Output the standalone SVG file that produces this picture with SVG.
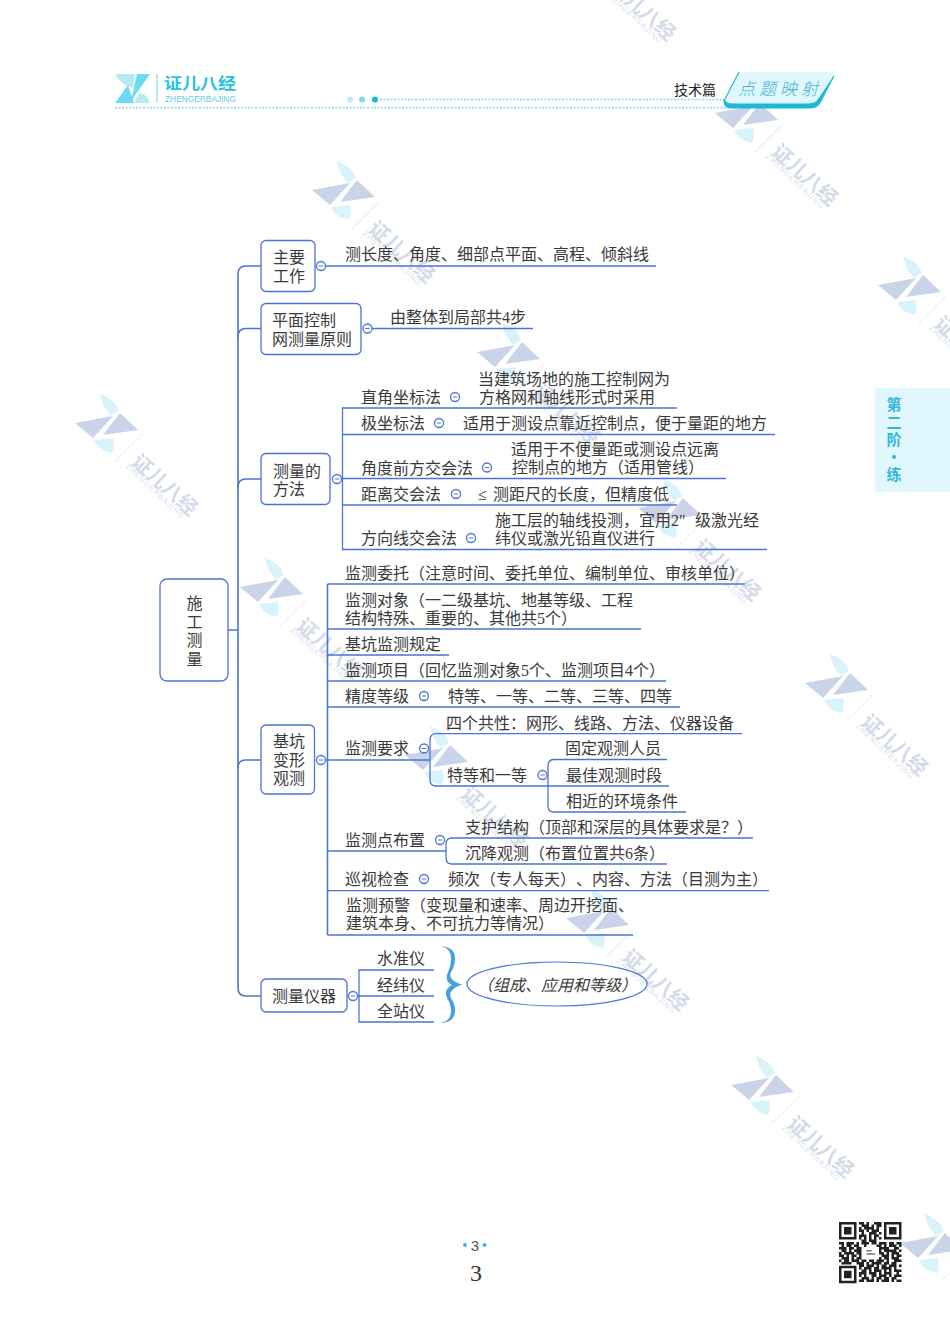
<svg xmlns="http://www.w3.org/2000/svg" width="950" height="1324" viewBox="0 0 950 1324" xml:lang="zh-CN">
<style>
text{font-family:"Liberation Serif","Noto Sans CJK SC",serif;font-size:16px;fill:#3a3a3a;dominant-baseline:central;text-spacing-trim:space-all;font-kerning:none}
.box{fill:#fff;stroke:#4a74d6;stroke-width:1.3}
.ln{fill:none;stroke:#4a74d6;stroke-width:1.3}
.tr{fill:none;stroke:#4a74d6;stroke-width:1.6}
.wt{fill:#c9d4e8}.wp{fill:#d9f3fb}
.wz{font-family:"Noto Sans CJK SC",sans-serif;font-size:20px;font-weight:700;fill:#d3daea}
.we{font-family:"Liberation Sans",sans-serif;font-size:7.5px;fill:#d9dfec}
.sd{font-family:"Noto Sans CJK SC",sans-serif;font-size:15px;font-weight:700;fill:#2fb8d8;writing-mode:vertical-rl;letter-spacing:2.5px;dominant-baseline:auto}
</style>
<defs>
<g id="wm">
<path class="wp" d="M30 9Q45 14 49 26L41 31Q32 22 30 9Z"/>
<path class="wt" d="M5 38L43 31L23 53Z"/>
<path class="wt" d="M50 28L68 45L33 50Z"/>
<path class="wp" d="M24 55L43 53Q45 62 42 68Q29 66 24 55Z"/>
<path d="M73 49L45 77" stroke="#dde3ee" stroke-width=".8" fill="none"/>
<text class="wz" transform="translate(66 72) rotate(42)" textLength="80" lengthAdjust="spacing">证儿八经</text>
<text class="we" transform="translate(57 80) rotate(43)" textLength="76">ZHENGERBAJING</text>
</g>
<g id="m"><circle r="4.500" fill="#fff" stroke="#4a74d6" stroke-width="1.3"/><path d="M-2.200 0H2.200" stroke="#4a74d6" stroke-width="1"/></g>
</defs>
<rect width="950" height="1324" fill="#fff"/>

<g id="watermarks">
<use href="#wm" x="70" y="385"/><use href="#wm" x="307" y="152"/><use href="#wm" x="235" y="549"/>
<use href="#wm" x="710" y="75"/><use href="#wm" x="873" y="247"/><use href="#wm" x="472" y="314"/>
<use href="#wm" x="800" y="645"/><use href="#wm" x="726" y="1047"/><use href="#wm" x="548" y="-90"/>
<use href="#wm" x="561" y="880"/><use href="#wm" x="633" y="470"/><use href="#wm" x="400" y="717"/>
<use href="#wm" x="895" y="1205"/>
</g>

<g id="header">
<path d="M115 74H135L133 88Q121 85 115 74Z" fill="#b5eaf5"/>
<path d="M137 74H150L131 101Z" fill="#6cdaf0"/>
<path d="M115 103L128 85L134 103Z" fill="#6cdaf0"/>
<path d="M135 103H150Q147 94 140 93Q136 96 135 103Z" fill="#b5eaf5"/>
<path d="M157 74V103" stroke="#6cdaf0" stroke-width="1"/>
<text x="164" y="82" style="font-family:'Noto Sans CJK SC',sans-serif;font-size:16px;font-weight:700;fill:#27c2de" textLength="72" lengthAdjust="spacingAndGlyphs">证儿八经</text>
<text x="165" y="98.500" style="font-family:'Liberation Sans',sans-serif;font-size:9px;fill:#63cbe3" textLength="71" lengthAdjust="spacingAndGlyphs">ZHENGERBAJING</text>
<circle cx="350" cy="99.500" r="3" fill="#bfeaf4"/><circle cx="362" cy="99.500" r="3" fill="#7fd7ea"/><circle cx="375" cy="99.500" r="3" fill="#16b7d8"/>
<path d="M380 99.500H728M115 107.700H730" stroke="#8adcec" stroke-width="1.500" stroke-dasharray="2 1.500" fill="none"/>
<text x="674" y="89" style="font-family:'Noto Sans CJK SC',sans-serif;font-size:14px;fill:#222" textLength="42">技术篇</text>
<path d="M739 72H829Q835 72 833 78L820 102Q817 107 811 107H731Q723 107 725 100Z" fill="#e0f8fd"/>
<path d="M724 99Q723 108 731 108H811Q817 108 820 103L834 76L818 100Q815 104 809 104H732Q726 104 724 99Z" fill="#1cb9d6" stroke="#1cb9d6"/>
<path d="M739 72L725 99" stroke="#1cb9d6" stroke-width="1.200" fill="none"/>
<text x="738" y="87" style="font-family:'Noto Sans CJK SC',sans-serif;font-size:17px;font-weight:300;font-style:italic;fill:#44b2d4" textLength="80">点题映射</text>
</g>

<g id="side-tab">
<rect x="875" y="388" width="75" height="104" fill="#dff7fd"/>
<text class="sd" x="894" y="397">第二阶·练</text>
</g>

<g id="connectors">
<path class="tr" d="M261 266H246Q238 266 238 274V988Q238 996 246 996H261"/>
<path class="tr" d="M261 328.500H246Q238 328.500 238 337M261 479H246Q238 479 238 487M261 760H246Q238 760 238 768M228 630H238"/>
<path class="ln" d="M325 266H656M371 328.500H533"/>
<path class="ln" d="M341 478.500H726M677 408H342.500V549.500H767M342.500 434.500H775M342.500 505H677"/>
<path class="tr" d="M327.500 584V935"/>
<path class="ln" d="M327.500 584H745M327.500 629H641M327.500 655H449M327.500 681H666M327.500 707H680M325 760H430M327.500 851H446M327.500 890.700H769M327.500 935H633"/>
<path class="ln" d="M742 733.700H436Q430 733.700 430 740V780Q430 786 436 786H548"/>
<path class="ln" d="M667 759.500H554Q548 759.500 548 766V806Q548 812 554 812H686M548 786H669"/>
<path class="ln" d="M753 838H452Q446 838 446 844V858Q446 864 452 864H667"/>
<path class="ln" d="M357 996H434M434 970H359V1022H434"/>
</g>

<g id="root"><rect class="box" x="160" y="579" width="68" height="102" rx="7"/><text x="186.500" y="603">施</text><text x="186.500" y="622">工</text><text x="186.500" y="640">测</text><text x="186.500" y="659">量</text></g>

<g id="n-main-work"><rect class="box" x="261" y="240.500" width="54" height="51" rx="5"/><text x="273" y="257">主要</text><text x="273" y="276">工作</text><use href="#m" x="321" y="266"/></g>
<g id="n-main-work-1"><text x="345" y="254">测长度、角度、细部点平面、高程、倾斜线</text></g>

<g id="n-control"><rect class="box" x="261" y="303.500" width="100" height="51" rx="5"/><text x="272" y="320">平面控制</text><text x="272" y="339">网测量原则</text><use href="#m" x="367.500" y="328.500"/></g>
<g id="n-control-1"><text x="390" y="317">由整体到局部共4步</text></g>

<g id="n-method"><rect class="box" x="261" y="453.500" width="69" height="51" rx="5"/><text x="273" y="471">测量的</text><text x="273" y="489">方法</text><use href="#m" x="337" y="479"/></g>
<g id="n-m1"><text x="361" y="397">直角坐标法</text><use href="#m" x="455" y="397"/><text x="478" y="379">当建筑场地的施工控制网为</text><text x="479" y="397">方格网和轴线形式时采用</text></g>
<g id="n-m2"><text x="361" y="423">极坐标法</text><use href="#m" x="439" y="423"/><text x="463" y="423">适用于测设点靠近控制点，便于量距的地方</text></g>
<g id="n-m3"><text x="361" y="468">角度前方交会法</text><use href="#m" x="487" y="467.500"/><text x="511" y="449">适用于不便量距或测设点远离</text><text x="512" y="467">控制点的地方（适用管线）</text></g>
<g id="n-m4"><text x="361" y="494">距离交会法</text><use href="#m" x="456" y="494"/><text x="478" y="494">≤<tspan x="493">测距尺的长度，但精度低</tspan></text></g>
<g id="n-m5"><text x="361" y="538">方向线交会法</text><use href="#m" x="471" y="538"/><text x="495" y="520">施工层的轴线投测，宜用2″ <tspan x="695">级激光经</tspan></text><text x="495" y="538">纬仪或激光铅直仪进行</text></g>

<g id="n-pit"><rect class="box" x="261" y="725" width="53.500" height="69" rx="5"/><text x="273" y="741">基坑</text><text x="273" y="760">变形</text><text x="273" y="778">观测</text><use href="#m" x="321" y="760"/></g>
<g id="n-p1"><text x="345" y="573">监测委托（注意时间、委托单位、编制单位、审核单位）</text></g>
<g id="n-p2"><text x="345" y="600">监测对象（一二级基坑、地基等级、工程</text><text x="345" y="618">结构特殊、重要的、其他共5个）</text></g>
<g id="n-p3"><text x="345" y="644">基坑监测规定</text></g>
<g id="n-p4"><text x="345" y="670">监测项目（回忆监测对象5个、监测项目4个）</text></g>
<g id="n-p5"><text x="345" y="696">精度等级</text><use href="#m" x="424" y="696"/><text x="448" y="696">特等、一等、二等、三等、四等</text></g>
<g id="n-p6"><text x="345" y="748">监测要求</text><use href="#m" x="424" y="748.500"/></g>
<g id="n-p6a"><text x="446" y="723">四个共性：网形、线路、方法、仪器设备</text></g>
<g id="n-p6b"><text x="447" y="775">特等和一等</text><use href="#m" x="542.500" y="775"/></g>
<g id="n-p6b1"><text x="565" y="748">固定观测人员</text></g>
<g id="n-p6b2"><text x="566" y="775">最佳观测时段</text></g>
<g id="n-p6b3"><text x="566" y="801">相近的环境条件</text></g>
<g id="n-p7"><text x="345" y="840">监测点布置</text><use href="#m" x="440" y="840"/></g>
<g id="n-p7a"><text x="465" y="827">支护结构（顶部和深层的具体要求是？）</text></g>
<g id="n-p7b"><text x="465" y="853">沉降观测（布置位置共6条）</text></g>
<g id="n-p8"><text x="345" y="879">巡视检查</text><use href="#m" x="424" y="879"/><text x="448" y="879">频次（专人每天）、内容、方法（目测为主）</text></g>
<g id="n-p9"><text x="346" y="905">监测预警（变现量和速率、周边开挖面、</text><text x="346" y="923">建筑本身、不可抗力等情况）</text></g>

<g id="n-inst"><rect class="box" x="261" y="979" width="86" height="33" rx="5"/><text x="272" y="996">测量仪器</text><use href="#m" x="353" y="996"/></g>
<g id="n-i1"><text x="377" y="958">水准仪</text></g>
<g id="n-i2"><text x="377" y="985">经纬仪</text></g>
<g id="n-i3"><text x="377" y="1011">全站仪</text></g>
<g id="n-brace"><path d="M440 946Q455 947 455 958Q455 966 451 972Q447 980 462 984.500Q447 990 451 998Q456 1006 455 1012Q454 1023 440 1023Q451 1021 451 1012Q451 1004 447 998Q443 990 452 985Q444 981 448 972Q451 966 451 958Q451 948 440 946Z" fill="#4a9fdc"/></g>
<g id="n-note"><ellipse cx="557" cy="984" rx="90" ry="22" fill="#fff" fill-opacity="0" stroke="#4a74d6" stroke-width="1.2"/><text x="557" y="985" font-style="italic" text-anchor="middle">（组成、应用和等级）</text></g>

<g id="footer">
<circle cx="465" cy="1245" r="2" fill="#22c0dc"/><circle cx="484.500" cy="1245" r="2" fill="#22c0dc"/>
<text x="475" y="1245" text-anchor="middle" style="font-family:'Liberation Sans',sans-serif;font-size:15px;fill:#555">3</text>
<text x="476" y="1273" text-anchor="middle" style="font-size:24px;fill:#333">3</text>
</g>

<g id="qr" transform="translate(839 1222) scale(2.5)">
<rect width="25" height="24.500" fill="#fff"/>
<path d="M.5 .5h6v6h-6zM18.500 .5h6v6h-6zM.5 18h6v6h-6z" fill="none" stroke="#222" stroke-width="1"/>
<path d="M2 2h3v3h-3zM20 2h3v3h-3zM2 19.500h3v3h-3z" fill="#222"/>
<path fill="none" stroke="#222" stroke-width="1" d="M8 .5h2M11 .5h1M14 .5h3M9 1.500h3M13 1.500h1M15 1.500h2M8 2.500h1M10 2.500h4M15 2.500h1M8 3.500h2M11 3.500h1M13 3.500h3M9 4.500h1M12 4.500h3M16 4.500h1M8 5.500h3M12 5.500h1M14 5.500h2M8 6.500h1M10 6.500h1M12 6.500h1M14 6.500h1M16 6.500h1M9 7.500h2M12 7.500h3M0 8.500h2M3 8.500h3M7 8.500h1M9 8.500h3M13 8.500h2M16 8.500h3M20 8.500h2M23 8.500h2M1 9.500h1M3 9.500h2M6 9.500h2M10 9.500h1M15 9.500h2M18 9.500h1M20 9.500h3M24 9.500h1M0 10.500h3M4 10.500h2M7 10.500h2M16 10.500h3M19 10.500h1M22 10.500h2M1 11.500h2M4 11.500h1M6 11.500h3M16 11.500h1M18 11.500h3M21 11.500h2M24 11.500h1M0 12.500h1M2 12.500h4M7 12.500h2M16 12.500h2M19 12.500h1M21 12.500h3M0 13.500h2M3 13.500h1M5 13.500h2M8 13.500h1M17 13.500h3M21 13.500h1M23 13.500h2M1 14.500h3M5 14.500h1M7 14.500h2M16 14.500h1M18 14.500h2M21 14.500h3M0 15.500h1M2 15.500h2M5 15.500h3M9 15.500h2M12 15.500h2M15 15.500h3M19 15.500h1M22 15.500h3M1 16.500h3M4 16.500h1M7 16.500h3M11 16.500h1M13 16.500h4M18 16.500h2M21 16.500h2M8 17.500h2M11 17.500h3M15 17.500h1M17 17.500h2M20 17.500h3M24 17.500h1M8 18.500h1M10 18.500h3M14 18.500h2M17 18.500h4M22 18.500h1M9 19.500h2M12 19.500h1M14 19.500h3M18 19.500h1M20 19.500h1M22 19.500h3M8 20.500h3M12 20.500h3M16 20.500h1M18 20.500h3M23 20.500h1M8 21.500h1M10 21.500h1M13 21.500h2M16 21.500h3M20 21.500h1M22 21.500h3M9 22.500h3M13 22.500h1M15 22.500h2M18 22.500h2M21 22.500h2M8 23.500h2M11 23.500h3M15 23.500h1M17 23.500h3M21 23.500h1M23 23.500h2"/>
<path d="M11 11.500h2M11 12.800h3.500" stroke="#333" stroke-width=".4" fill="none"/>
</g>
</svg>
